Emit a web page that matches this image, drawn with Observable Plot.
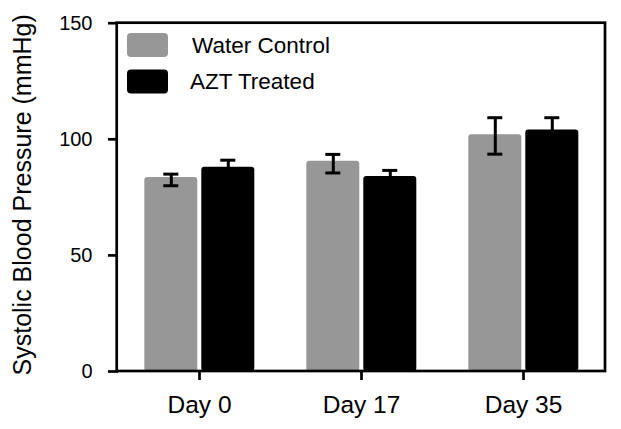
<!DOCTYPE html>
<html><head><meta charset="utf-8">
<script src="https://cdn.jsdelivr.net/npm/d3@7"></script>
<script src="https://cdn.jsdelivr.net/npm/@observablehq/plot@0.6"></script>
<style>
body{margin:0;background:#fff;}
#wrap{position:relative;width:621px;height:429px;}
</style></head><body><div id="wrap"></div>
<script>
const days = ["Day 0", "Day 17", "Day 35"];
const series = ["Water Control", "AZT Treated"];
const colors = ["#979797", "#000000"];
const waterMean = [83.5, 90.5, 102];
const waterLo = [80, 85.5, 93.6];
const waterHi = [85, 93.5, 109.3];
const aztMean = [88, 84, 104];
const aztLo = [85, 81.5, 99];
const aztHi = [91, 86.6, 109.3];
const yTicks = [0, 50, 100, 150];
const yLabel = "Systolic Blood Pressure (mmHg)";

const rows = [];
days.forEach((d, i) => {
  rows.push({day: d, series: series[0], mean: waterMean[i], lo: waterLo[i], hi: waterHi[i]});
  rows.push({day: d, series: series[1], mean: aztMean[i], lo: aztLo[i], hi: aztHi[i]});
});

const font = '"Liberation Sans", Arial, sans-serif';
const plot = Plot.plot({
  width: 621, height: 429,
  marginLeft: 116.7, marginRight: 16, marginTop: 22.7, marginBottom: 58,
  style: {fontFamily: font, background: "white", color: "black"},
  fx: {domain: days, padding: 0, label: null},
  x: {domain: series, paddingInner: 0.069, paddingOuter: 0.44, axis: null},
  y: {domain: [0, 150], label: null},
  color: {domain: series, range: colors},
  marks: [
    Plot.barY(rows, {fx: "day", x: "series", y: "mean", fill: "series", rx: 3}),
    Plot.ruleX(rows, {fx: "day", x: "series", y1: "lo", y2: "hi", stroke: "black", strokeWidth: 3}),
    Plot.tickY(rows, {fx: "day", x: "series", y: "hi", stroke: "black", strokeWidth: 3, insetLeft: 19, insetRight: 19}),
    Plot.tickY(rows, {fx: "day", x: "series", y: "lo", stroke: "black", strokeWidth: 3, insetLeft: 19, insetRight: 19}),
    Plot.axisY({ticks: yTicks, tickSize: 10, tickPadding: 16, fontSize: 20, strokeWidth: 2.7, label: null}),
    Plot.axisFx({anchor: "bottom", tickSize: 9, tickPadding: 15, fontSize: 24.5, strokeWidth: 2.7, label: null})
  ]
});

const svg = d3.select(plot);
const yr = plot.scale("y").range;
const fr = plot.scale("fx").range;
svg.append("rect")
  .attr("x", fr[0]).attr("y", Math.min(...yr))
  .attr("width", fr[1] - fr[0]).attr("height", Math.abs(yr[0] - yr[1]))
  .attr("fill", "none").attr("stroke", "black").attr("stroke-width", 2.7);

svg.append("text")
  .attr("transform", `translate(31,${(yr[0] + yr[1]) / 2 - 2}) rotate(-90)`)
  .style("text-anchor", "middle")
  .style("font-family", font).style("font-size", "25px").attr("fill", "black")
  .text(yLabel);

const leg = svg.append("g").style("font-family", font).style("font-size", "22.5px");
series.forEach((s, i) => {
  leg.append("rect").attr("x", 127).attr("y", 33 + 36.5 * i).attr("width", 41).attr("height", 24)
    .attr("rx", 4).attr("fill", colors[i]);
  leg.append("text").attr("x", 192 - 2 * i).attr("y", 53 + 36 * i).style("text-anchor", "start")
    .attr("fill", "black").text(s);
});

document.getElementById("wrap").appendChild(plot);
</script>
</body></html>
